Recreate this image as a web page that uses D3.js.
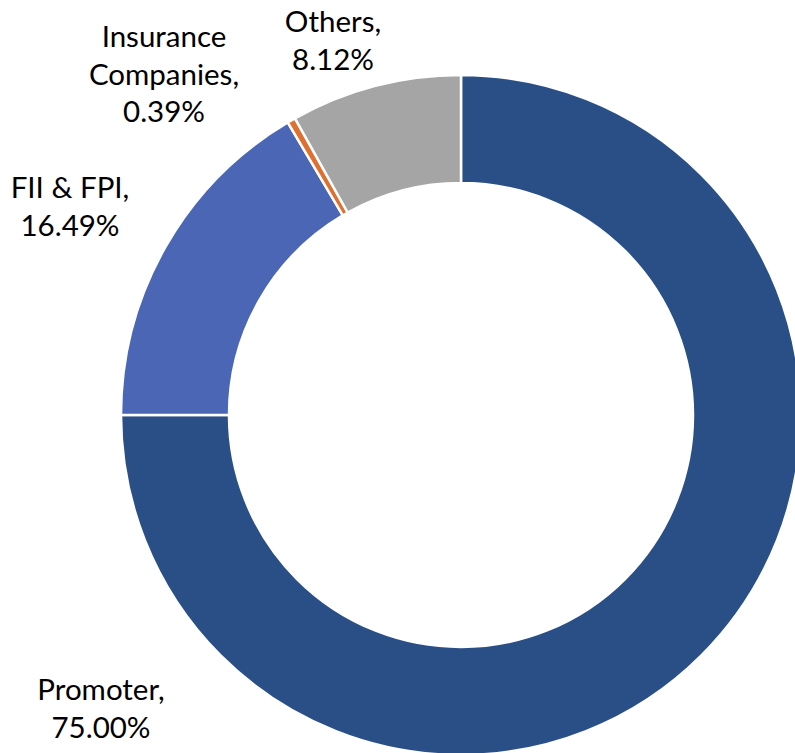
<!DOCTYPE html>
<html>
<head>
  <meta charset="utf-8">
  <script src="https://d3js.org/d3.v7.min.js"></script>
  <style>
    body { margin: 0; background: #ffffff; }
    .label { font-family: Lato, "Open Sans", sans-serif; font-size: 29.5px; fill: #000000; text-anchor: middle; }
  </style>
</head>
<body>
  <svg></svg>
  <script>
    const categories = ["Promoter", "FII & FPI", "Insurance Companies", "Others"]
    const shares = [75.00, 16.49, 0.39, 8.12]
    const colors = ["#2a4f86", "#4a66b5", "#e0702f", "#a5a5a5"]

    // label blocks: lines of text and where they sit
    const labelLines = [
      ["Promoter,", "75.00%"],
      ["FII & FPI,", "16.49%"],
      ["Insurance", "Companies,", "0.39%"],
      ["Others,", "8.12%"]
    ]
    const labelPos = [
      {x: 101, y: 700},
      {x: 70, y: 198},
      {x: 164, y: 47},
      {x: 333, y: 32}
    ]

    const width = 795
    const height = 753
    const cx = 461
    const cy = 415
    const outerR = 340
    const innerR = 232
    const lineH = 37.5

    const svg = d3.select("svg")
      .attr("width", width)
      .attr("height", height)

    const data = categories.map((c, i) => ({name: c, value: shares[i], color: colors[i]}))

    const pie = d3.pie()
      .sort(null)
      .value(d => d.value)

    const arc = d3.arc()
      .innerRadius(innerR)
      .outerRadius(outerR)

    const g = svg.append("g")
      .attr("transform", `translate(${cx},${cy})`)

    g.selectAll(".slice")
      .data(pie(data))
      .enter()
      .append("path")
      .attr("class", "slice")
      .attr("d", arc)
      .attr("fill", d => d.data.color)
      .attr("stroke", "#ffffff")
      .attr("stroke-width", 2.5)

    const labels = svg.selectAll(".label")
      .data(data)
      .enter()
      .append("text")
      .attr("class", "label")
      .attr("x", (d, i) => labelPos[i].x)
      .attr("y", (d, i) => labelPos[i].y)

    labels.selectAll("tspan")
      .data((d, i) => labelLines[i].map(t => ({t, x: labelPos[i].x})))
      .enter()
      .append("tspan")
      .attr("x", d => d.x)
      .attr("dy", (d, j) => j === 0 ? 0 : lineH)
      .text(d => d.t)
  </script>
</body>
</html>
